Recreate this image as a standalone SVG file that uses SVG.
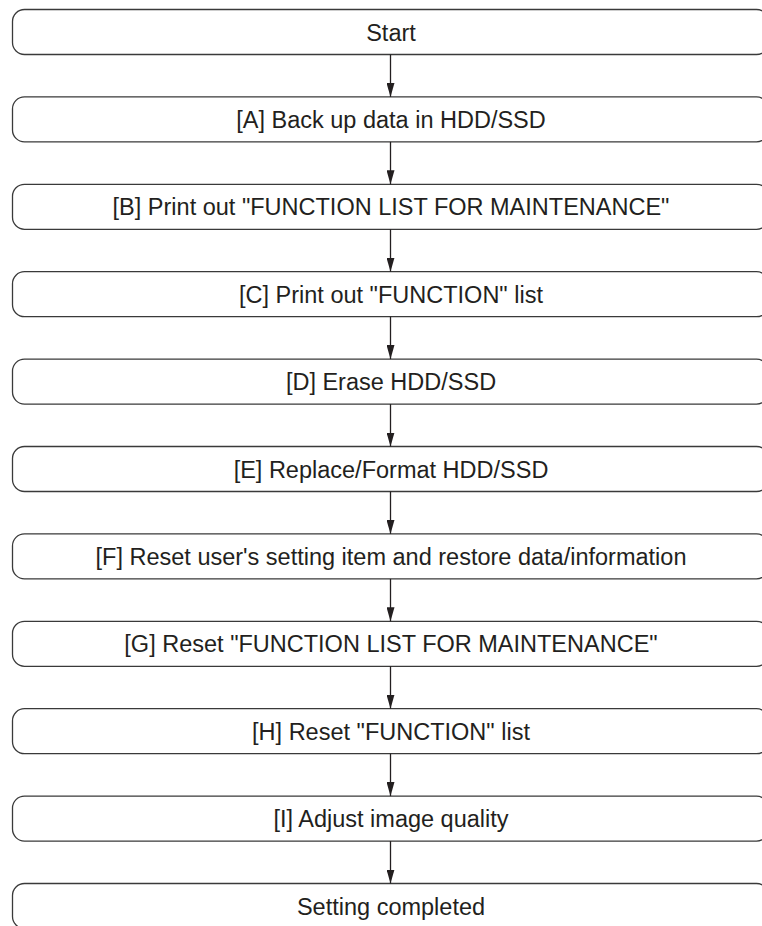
<svg xmlns="http://www.w3.org/2000/svg" width="762" height="926" viewBox="0 0 762 926">
<defs>
<style>
.box{fill:#fff;stroke:#3a3a3a;stroke-width:1.3}
.lbl{font-family:"Liberation Sans",Arial,sans-serif;font-size:23.5px;fill:#231f20;text-anchor:middle}
.con line{stroke:#231f20;stroke-width:1.3}
</style>
<marker id="arr" viewBox="0 0 14 8" refX="14" refY="4" markerWidth="14" markerHeight="8" markerUnits="userSpaceOnUse" orient="auto">
<path d="M0,0 L14,4 L0,8 Z" fill="#231f20"/>
</marker>
</defs>
<rect width="762" height="926" fill="#fff"/>
<g id="n0"><rect class="box" x="12.5" y="9.5" width="756" height="45" rx="12"/><text class="lbl" x="391" y="40.5">Start</text></g>
<g id="nA"><rect class="box" x="12.5" y="96.9" width="756" height="45" rx="12"/><text class="lbl" x="391" y="127.9">[A] Back up data in HDD/SSD</text></g>
<g id="nB"><rect class="box" x="12.5" y="184.3" width="756" height="45" rx="12"/><text class="lbl" x="391" y="215.3">[B] Print out "FUNCTION LIST FOR MAINTENANCE"</text></g>
<g id="nC"><rect class="box" x="12.5" y="271.7" width="756" height="45" rx="12"/><text class="lbl" x="391" y="302.7">[C] Print out "FUNCTION" list</text></g>
<g id="nD"><rect class="box" x="12.5" y="359.1" width="756" height="45" rx="12"/><text class="lbl" x="391" y="390.1">[D] Erase HDD/SSD</text></g>
<g id="nE"><rect class="box" x="12.5" y="446.5" width="756" height="45" rx="12"/><text class="lbl" x="391" y="477.5">[E] Replace/Format HDD/SSD</text></g>
<g id="nF"><rect class="box" x="12.5" y="533.9" width="756" height="45" rx="12"/><text class="lbl" x="391" y="564.9">[F] Reset user's setting item and restore data/information</text></g>
<g id="nG"><rect class="box" x="12.5" y="621.3" width="756" height="45" rx="12"/><text class="lbl" x="391" y="652.3">[G] Reset "FUNCTION LIST FOR MAINTENANCE"</text></g>
<g id="nH"><rect class="box" x="12.5" y="708.7" width="756" height="45" rx="12"/><text class="lbl" x="391" y="739.7">[H] Reset "FUNCTION" list</text></g>
<g id="nI"><rect class="box" x="12.5" y="796.1" width="756" height="45" rx="12"/><text class="lbl" x="391" y="827.1">[I] Adjust image quality</text></g>
<g id="nEnd"><rect class="box" x="12.5" y="883.5" width="756" height="45" rx="12"/><text class="lbl" x="391" y="914.5">Setting completed</text></g>
<g id="connectors" class="con">
<line x1="390.5" y1="54.5" x2="390.5" y2="96.9" marker-end="url(#arr)"/>
<line x1="390.5" y1="141.9" x2="390.5" y2="184.3" marker-end="url(#arr)"/>
<line x1="390.5" y1="229.3" x2="390.5" y2="271.7" marker-end="url(#arr)"/>
<line x1="390.5" y1="316.7" x2="390.5" y2="359.1" marker-end="url(#arr)"/>
<line x1="390.5" y1="404.1" x2="390.5" y2="446.5" marker-end="url(#arr)"/>
<line x1="390.5" y1="491.5" x2="390.5" y2="533.9" marker-end="url(#arr)"/>
<line x1="390.5" y1="578.9" x2="390.5" y2="621.3" marker-end="url(#arr)"/>
<line x1="390.5" y1="666.3" x2="390.5" y2="708.7" marker-end="url(#arr)"/>
<line x1="390.5" y1="753.7" x2="390.5" y2="796.1" marker-end="url(#arr)"/>
<line x1="390.5" y1="841.1" x2="390.5" y2="883.5" marker-end="url(#arr)"/>
</g>
</svg>
